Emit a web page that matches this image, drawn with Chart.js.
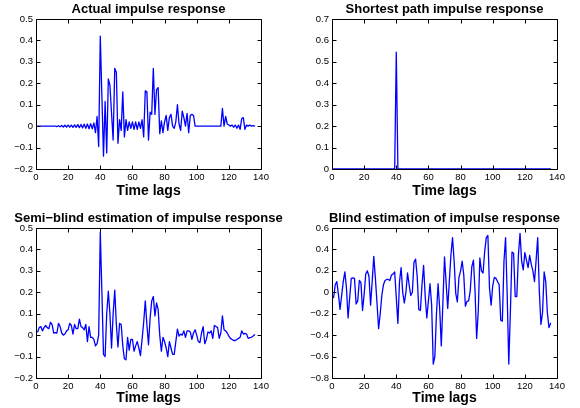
<!DOCTYPE html>
<html><head><meta charset="utf-8">
<script src="https://cdn.jsdelivr.net/npm/chart.js@4.4.0/dist/chart.umd.min.js"></script>
<style>
html,body{margin:0;padding:0;background:#fff;overflow:hidden;width:580px;height:408px;position:relative;}
canvas{position:absolute;}
</style></head><body>
<canvas id="c1" width="285" height="200" style="left:6px;top:0px;width:285px;height:200px"></canvas>
<canvas id="c2" width="285" height="200" style="left:302px;top:0px;width:285px;height:200px"></canvas>
<canvas id="c3" width="285" height="208" style="left:6px;top:200px;width:285px;height:208px"></canvas>
<canvas id="c4" width="285" height="208" style="left:302px;top:200px;width:285px;height:208px"></canvas>
<script>
// ---- data ----
const lags = Array.from({length: 136}, (_, i) => i + 1);
const xTicks = [0, 20, 40, 60, 80, 100, 120, 140];

const actualValues = [
  0,0,0,0,0,0,0,0,0,0,0,0,
  -0.002,0.002,-0.003,0.003,-0.004,0.004,-0.004,0.005,-0.005,0.005,
  -0.006,0.006,-0.006,0.007,-0.007,0.008,-0.008,0.009,-0.01,0.01,
  -0.012,0.012,-0.012,0.015,-0.03,0.045,-0.095,
  0.42,0.14,-0.14,0.115,-0.125,0.22,0.19,0.06,-0.065,0.27,
  0.25,-0.08,0.03,-0.02,0.16,-0.05,0.03,-0.02,0.02,-0.01,
  0.02,-0.015,0.02,-0.015,0.02,-0.01,0.03,-0.05,0.165,0.16,
  -0.065,0.065,0.055,0.27,0.055,0.17,0.18,-0.035,0.025,-0.03,
  0.02,0.05,-0.02,0.04,0.055,0.0,-0.01,0.02,0.1,0.01,
  -0.02,0.07,0.04,0.0,0.06,-0.03,0.05,0.055,0.05,0.0,
  0,0,0,0,0,0,0,0,0,0,0,0,0,0,0,0,
  0.083,0.0,0.045,0.01,0.005,0.0,0.005,-0.005,0.005,-0.01,
  0.005,-0.015,0.035,0.04,-0.015,0.005,0.0,0.005,0.0,0.002,0.0
];

const shortestLags = [1, 39, 40, 41, 136];
const shortestValues = [0, 0, 0.545, 0, 0];

const semiBlindValues = [
  0.015,0.035,0.04,0.02,0.035,0.045,0.035,0.03,0.06,0.05,
  0.01,0.012,0.01,0.055,0.04,0.01,0.0,0.005,0.02,0.025,
  0.055,0.045,0.005,0.05,0.03,0.03,0.075,0.04,0.035,0.025,
  0.05,-0.03,0.04,-0.01,-0.01,-0.02,-0.05,-0.04,0.0,0.48,
  0.2,-0.09,-0.1,0.1,0.205,0.1,-0.06,0.1,0.21,0.05,
  -0.055,0.055,0.05,-0.05,-0.11,-0.115,-0.01,-0.07,-0.02,-0.02,
  -0.075,-0.05,-0.03,-0.06,-0.095,-0.02,0.06,0.16,0.05,-0.045,
  0.08,0.16,0.18,0.09,0.15,0.12,0.0,-0.075,-0.01,-0.03,
  -0.06,-0.1,-0.03,-0.06,-0.09,-0.09,-0.03,0.028,-0.005,0.005,
  0.0,0.02,-0.01,0.02,0.02,0.015,-0.02,0.01,0.025,0.0,
  -0.03,-0.035,0.01,0.04,-0.04,-0.02,0.015,0.01,0.02,-0.015,
  0.045,0.04,0.035,-0.015,0.01,0.09,0.025,0.02,0.01,-0.005,
  -0.015,-0.02,-0.025,-0.025,-0.02,-0.015,-0.01,0.02,0.005,0.008,
  0.005,-0.015,-0.012,-0.01,-0.005,0.002
];

const blindValues = [
  -0.05,0.07,0.1,-0.02,-0.16,-0.03,0.1,0.19,0.04,-0.24,
  -0.05,0.13,0.135,0.13,-0.11,-0.08,0.11,0.09,-0.17,-0.02,
  0.17,0.2,0.15,-0.12,0.1,0.335,0.13,-0.1,-0.34,-0.2,
  -0.03,0.07,0.11,0.12,0.12,0.11,0.16,0.17,0.19,-0.05,
  -0.29,0.1,0.23,0.0,-0.1,0.0,0.18,0.07,-0.03,0.0,
  0.28,0.31,0.15,-0.16,-0.17,0.07,0.25,-0.04,-0.24,-0.08,
  0.08,-0.12,-0.67,-0.6,-0.2,0.08,-0.15,-0.5,-0.1,0.33,
  0.09,-0.15,0.1,0.35,0.51,0.29,-0.01,-0.09,0.14,0.2,
  0.29,0.16,-0.13,-0.085,-0.08,0.01,0.24,0.3,0.01,-0.43,
  -0.18,0.32,0.2,0.18,0.38,0.51,0.53,0.04,-0.12,0.06,
  0.14,0.13,0.1,0.07,-0.26,-0.27,0.29,0.51,-0.02,-0.67,
  -0.18,0.375,0.365,-0.04,-0.04,0.35,0.55,0.29,0.21,0.37,
  0.3,0.23,0.345,0.26,0.2,0.1,0.3,0.51,0.01,-0.3,
  -0.19,0.19,0.1,-0.19,-0.33,-0.29
];

const actualYTicks = [-0.2, -0.1, 0, 0.1, 0.2, 0.3, 0.4, 0.5];
const shortestYTicks = [0, 0.1, 0.2, 0.3, 0.4, 0.5, 0.6, 0.7];
const semiBlindYTicks = [-0.2, -0.1, 0, 0.1, 0.2, 0.3, 0.4, 0.5];
const blindYTicks = [-0.8, -0.6, -0.4, -0.2, 0, 0.2, 0.4, 0.6];

const titles = [
  'Actual impulse response',
  'Shortest path impulse response',
  'Semi\u2212blind estimation of impulse response',
  'Blind estimation of impulse response'
];
const xLabel = 'Time lags';

// ---- rendering ----
Chart.defaults.font.family = "'Liberation Sans', Arial, Helvetica, sans-serif";
Chart.defaults.color = '#000';

function fmt(v) {
  if (v === 0) return '0';
  return (v < 0 ? '\u2212' : '') + String(Math.abs(v));
}

const boxTicks = {
  id: 'boxTicks',
  afterDatasetsDraw(chart) {
    const {ctx, chartArea: a} = chart;
    const x = chart.scales.x, y = chart.scales.y;
    const L = Math.round(a.left) + 0.5, R = Math.round(a.right) + 0.5;
    const T = Math.round(a.top) + 0.5, B = Math.round(a.bottom) + 0.5;
    ctx.save();
    ctx.strokeStyle = '#000';
    ctx.lineWidth = 1;
    ctx.beginPath();
    ctx.rect(L, T, R - L, B - T);
    x.ticks.forEach(t => {
      const p = Math.round(x.getPixelForValue(t.value)) + 0.5;
      ctx.moveTo(p, B); ctx.lineTo(p, B - 4);
      ctx.moveTo(p, T); ctx.lineTo(p, T + 4);
    });
    y.ticks.forEach(t => {
      const p = Math.round(y.getPixelForValue(t.value)) + 0.5;
      ctx.moveTo(L, p); ctx.lineTo(L + 4, p);
      ctx.moveTo(R, p); ctx.lineTo(R - 4, p);
    });
    ctx.stroke();
    ctx.restore();
  }
};

function makeChart(id, title, xs, ys, yTicks, top) {
  const pts = xs.map((x, i) => ({x: x, y: ys[i]}));
  const titlePad = top ? {top: 3.9, bottom: 4.7} : {top: 13.6, bottom: 4.0};
  const xAxisH = top ? 31 : 30;
  const xTitlePadB = top ? 0.8 : 1.6;
  return new Chart(document.getElementById(id), {
    type: 'line',
    data: {datasets: [{
      data: pts,
      borderColor: '#0000ff',
      borderWidth: 1.3,
      borderJoinStyle: 'round',
      borderCapStyle: 'round',
      pointRadius: 0,
      fill: false,
      tension: 0
    }]},
    options: {
      responsive: false,
      animation: false,
      devicePixelRatio: 1,
      layout: {padding: 0},
      plugins: {
        legend: {display: false},
        tooltip: {enabled: false},
        title: {
          display: true,
          text: title,
          color: '#000',
          font: {size: 13, weight: 'bold', lineHeight: 0.8},
          padding: titlePad
        }
      },
      scales: {
        x: {
          type: 'linear',
          min: 0, max: 140,
          afterBuildTicks: s => { s.ticks = xTicks.map(v => ({value: v})); },
          afterFit: s => { s.height = xAxisH; },
          ticks: {autoSkip: false, maxRotation: 0, padding: 3, font: {size: 9.5}, color: '#000',
                  callback: v => fmt(v)},
          grid: {display: false, drawTicks: false},
          border: {display: false},
          title: {display: true, text: xLabel, color: '#000',
                  font: {size: 14, weight: 'bold'}, padding: {top: 0, bottom: xTitlePadB}}
        },
        y: {
          type: 'linear',
          position: 'left',
          min: yTicks[0], max: yTicks[yTicks.length - 1],
          afterBuildTicks: s => { s.ticks = yTicks.map(v => ({value: v})); },
          afterFit: s => { s.width = 30; },
          ticks: {autoSkip: false, padding: 3, font: {size: 9.5}, color: '#000',
                  callback: v => fmt(v)},
          grid: {display: false, drawTicks: false},
          border: {display: false}
        },
        y2: {
          type: 'linear',
          position: 'right',
          display: true,
          afterFit: s => { s.width = 30; },
          ticks: {display: false},
          grid: {display: false, drawTicks: false},
          border: {display: false}
        }
      }
    },
    plugins: [boxTicks]
  });
}

makeChart('c1', titles[0], lags, actualValues, actualYTicks, true);
makeChart('c2', titles[1], shortestLags, shortestValues, shortestYTicks, true);
makeChart('c3', titles[2], lags, semiBlindValues, semiBlindYTicks, false);
makeChart('c4', titles[3], lags, blindValues, blindYTicks, false);
</script>
</body></html>
